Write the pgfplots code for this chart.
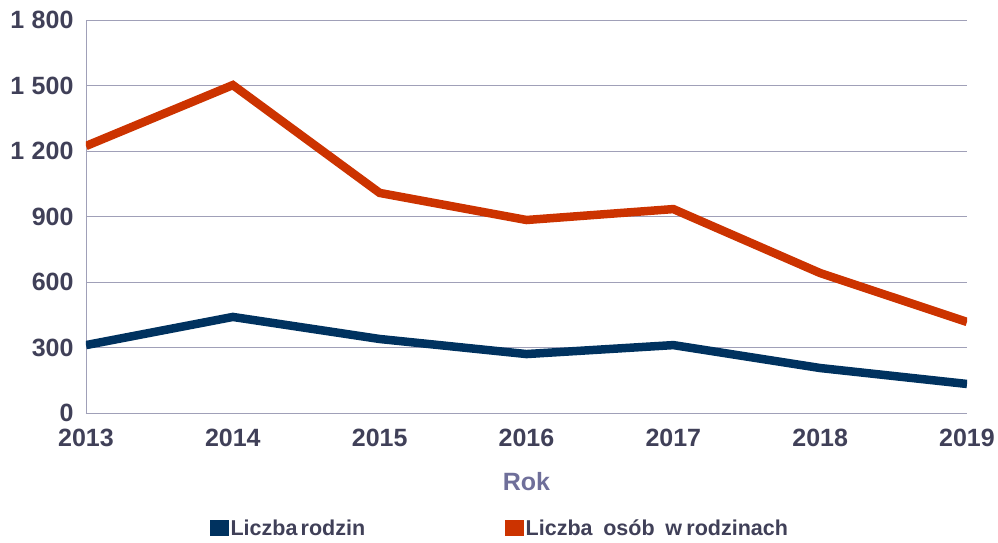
\documentclass[border=0pt]{standalone}
\usepackage{pgfplots}
\pgfplotsset{compat=1.18}
\usepackage{fontspec}
\setmainfont{Liberation Sans}
\definecolor{navy}{HTML}{00325F}
\definecolor{rust}{HTML}{CC3300}
\definecolor{txt}{HTML}{404058}
\definecolor{gridc}{HTML}{A0A0B8}
\definecolor{roklab}{HTML}{6F6F9A}

\begin{document}
\begin{tikzpicture}
\begin{axis}[
    scale only axis,
    width=881pt, height=393pt,
    xmin=2013, xmax=2019,
    ymin=0, ymax=1800,
    xtick={2013,2014,2015,2016,2017,2018,2019},
    ytick={0,300,600,900,1200,1500,1800},
    axis lines*=left,
    axis line style={gridc, line width=0.9pt},
    ymajorgrids,
    grid style={gridc, line width=0.9pt},
    major tick length=0pt,
    tick label style={font=\bfseries\fontsize{25}{27}\selectfont, text=txt},
    xticklabel style={/pgf/number format/1000 sep={}, yshift=-13pt},
    yticklabel style={/pgf/number format/1000 sep={\hspace{0.3em}}, xshift=-9pt},
    /pgf/number format/assume math mode=true,
    xlabel={Rok},
    xlabel style={font=\bfseries\fontsize{25}{28}\selectfont, text=roklab, yshift=-18pt},
    legend columns=2,
    legend style={draw=none, fill=none, at={(0.47,-0.2926)}, anchor=center,
        font=\bfseries\fontsize{21.5}{23}\selectfont, text=txt,
        /tikz/every even column/.append style={column sep=138pt},
        /tikz/every odd column/.append style={inner xsep=0pt}},
    legend image code/.code={\fill[#1] (0pt,-4pt) rectangle (10pt,4pt);},
]
\addplot[color=navy, line width=8.5pt] coordinates {
    (2013,311) (2014,440) (2015,339) (2016,270) (2017,311) (2018,206) (2019,133)
};
\addlegendentry{Liczba\hspace{0.15em}rodzin}
\addplot[color=rust, line width=8.5pt] coordinates {
    (2013,1223) (2014,1502) (2015,1008) (2016,884) (2017,934) (2018,641) (2019,417)
};
\addlegendentry{Liczba\hspace{0.5em}osób\hspace{0.5em}w\hspace{0.2em}rodzinach}
\end{axis}
\pgfresetboundingbox
\path[use as bounding box] (-86pt,-129pt) rectangle (912pt,413pt);
\end{tikzpicture}
\end{document}
